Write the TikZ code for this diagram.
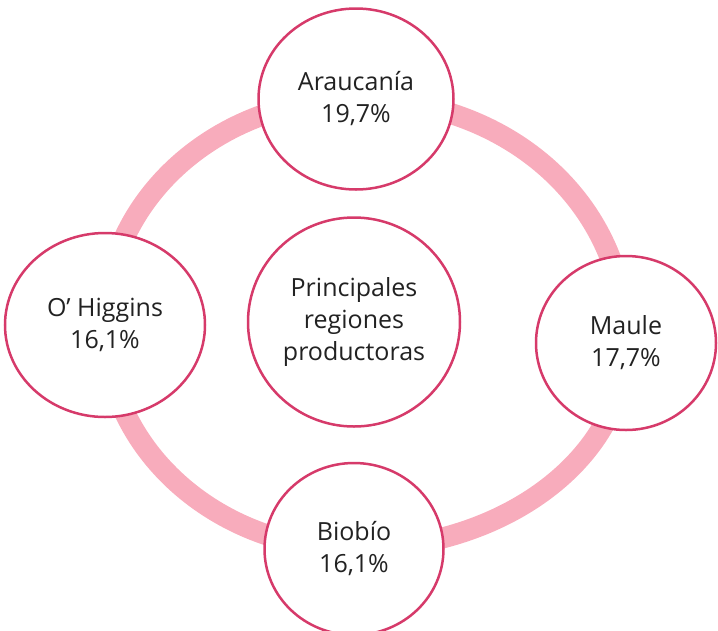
\documentclass[tikz,border=0pt]{standalone}
\usepackage{fontspec}
\setmainfont{Open Sans}
\usetikzlibrary{shapes.geometric,calc}
\pgfdeclarelayer{background}
\pgfsetlayers{background,main}
\definecolor{ringpink}{RGB}{248,172,188}
\definecolor{rimred}{RGB}{214,58,106}
\definecolor{txt}{RGB}{34,34,34}
\begin{document}
\begin{tikzpicture}[x=1pt,y=-1pt,
  region/.style={ellipse, draw=rimred, line width=2.5pt, fill=white, inner sep=0pt,
    text=txt, align=center, font=\fontsize{25}{32}\selectfont},
  ring/.style={draw=ringpink, line width=21pt}]
\useasboundingbox (0,0) rectangle (718,630);
\node[region, minimum width=195pt, minimum height=181pt] (A) at (356,99) {Araucanía\\19,7\%};
\node[region, minimum width=200pt, minimum height=184pt] (O) at (105,325) {O’ Higgins\\16,1\%};
\node[region, minimum width=212pt, minimum height=209pt] (C) at (354,322) {Principales\\regiones\\productoras};
\node[region, minimum width=180pt, minimum height=174pt] (M) at (626,343) {Maule\\17,7\%};
\node[region, minimum width=179pt, minimum height=172pt] (B) at (354,549) {Biobío\\16,1\%};
\begin{pgfonlayer}{background}
\draw[ring] (A.center)
  .. controls ($(A.center)+(152,0)$) and ($(M.center)+(0,-140)$) .. (M.center)
  .. controls ($(M.center)+(0,114)$) and ($(B.center)+(151,0)$) .. (B.center)
  .. controls ($(B.center)+(-137,0)$) and ($(O.center)+(0,124)$) .. (O.center)
  .. controls ($(O.center)+(0,-125)$) and ($(A.center)+(-139,0)$) .. (A.center) -- cycle;
\end{pgfonlayer}
\end{tikzpicture}
\end{document}
